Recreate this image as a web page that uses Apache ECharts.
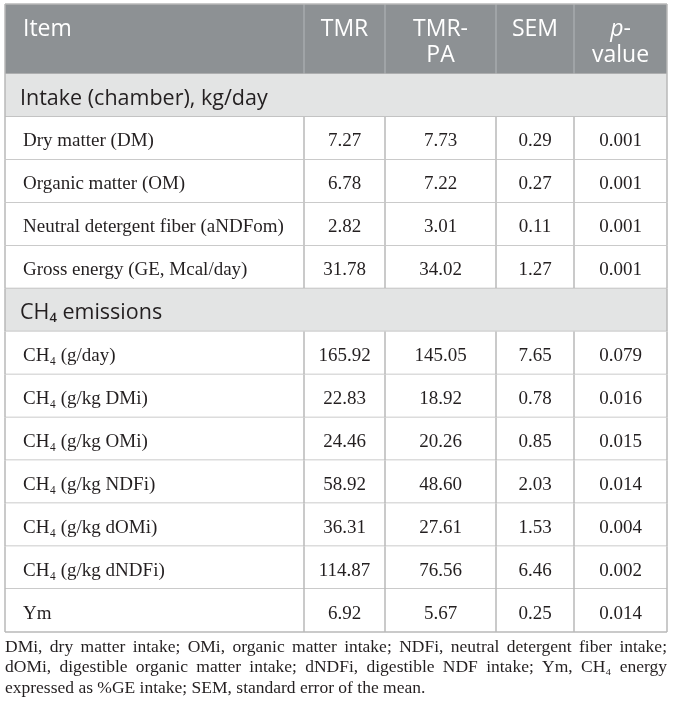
<!DOCTYPE html>
<html>
<head>
<meta charset="utf-8">
<script src="https://cdn.jsdelivr.net/npm/echarts@6/dist/echarts.min.js"></script>
<style>
html, body { margin: 0; padding: 0; background: #fff; }
#main { width: 673px; height: 714px; }
</style>
</head>
<body>
<div id="main"></div>
<script>
// table content
var columns = ['Item', 'TMR', 'TMR-\nPA', 'SEM', '{it|p}-\nvalue'];
var sectionIntake = 'Intake (chamber), kg/day';
var sectionCH4 = 'CH₄ emissions';

var intakeItems = ['Dry matter (DM)', 'Organic matter (OM)', 'Neutral detergent fiber (aNDFom)', 'Gross energy (GE, Mcal/day)'];
var intakeTMR = [7.27, 6.78, 2.82, 31.78];
var intakeTMRPA = [7.73, 7.22, 3.01, 34.02];
var intakeSEM = [0.29, 0.27, 0.11, 1.27];
var intakeP = [0.001, 0.001, 0.001, 0.001];

var ch4Items = ['CH₄ (g/day)', 'CH₄ (g/kg DMi)', 'CH₄ (g/kg OMi)', 'CH₄ (g/kg NDFi)', 'CH₄ (g/kg dOMi)', 'CH₄ (g/kg dNDFi)', 'Ym'];
var ch4TMR = [165.92, 22.83, 24.46, 58.92, 36.31, 114.87, 6.92];
var ch4TMRPA = [145.05, 18.92, 20.26, 48.60, 27.61, 76.56, 5.67];
var ch4SEM = [7.65, 0.78, 0.85, 2.03, 1.53, 6.46, 0.25];
var ch4P = [0.079, 0.016, 0.015, 0.014, 0.004, 0.002, 0.014];

var footnoteLines = [
    'DMi, dry matter intake; OMi, organic matter intake; NDFi, neutral detergent fiber intake;',
    'dOMi, digestible organic matter intake; dNDFi, digestible NDF intake; Ym, CH₄ energy',
    'expressed as %GE intake; SEM, standard error of the mean.'
];

// layout
var colEdges = [0, 299, 380, 491, 569, 662];
var HEADER_UNITS = 70 / 42.93;
var sansFont = '"Open Sans", "Noto Sans", sans-serif';
var serifFont = '"Liberation Serif", "DejaVu Serif", serif';
var lineColor = '#b9b9b9';

var rows = [];
rows.push({ kind: 'header', cells: columns });
rows.push({ kind: 'section', text: sectionIntake });
intakeItems.forEach(function (name, i) {
    rows.push({ kind: 'data', cells: [name, intakeTMR[i].toFixed(2), intakeTMRPA[i].toFixed(2), intakeSEM[i].toFixed(2), intakeP[i].toFixed(3)] });
});
rows.push({ kind: 'section', text: sectionCH4 });
ch4Items.forEach(function (name, i) {
    rows.push({ kind: 'data', cells: [name, ch4TMR[i].toFixed(2), ch4TMRPA[i].toFixed(2), ch4SEM[i].toFixed(2), ch4P[i].toFixed(3)] });
});

var rowData = rows.map(function (r, i) {
    var top = i === 0 ? 0 : HEADER_UNITS + (i - 1);
    var bottom = i === 0 ? HEADER_UNITS : HEADER_UNITS + i;
    return [i, top, bottom];
});
var totalUnits = HEADER_UNITS + rows.length - 1;

function renderRow(params, api) {
    var r = rows[params.dataIndex];
    var tl = api.coord([colEdges[0], api.value(1)]);
    var br = api.coord([colEdges[colEdges.length - 1], api.value(2)]);
    var x0 = tl[0], y0 = tl[1], x1 = br[0], y1 = br[1];
    var xs = colEdges.map(function (e) { return api.coord([e, 0])[0]; });
    var kids = [];
    var bg = r.kind === 'header' ? '#8d9194' : (r.kind === 'section' ? '#e3e4e4' : '#ffffff');
    kids.push({ type: 'rect', shape: { x: x0, y: y0, width: x1 - x0, height: y1 - y0 }, style: { fill: bg } });

    function vline(x, c) {
        kids.push({ type: 'line', shape: { x1: x, y1: y0, x2: x, y2: y1 }, style: { stroke: c, lineWidth: 1.5 } });
    }
    function hline(y) {
        kids.push({ type: 'line', shape: { x1: x0, y1: y, x2: x1, y2: y }, style: { stroke: lineColor, lineWidth: 1.5 } });
    }

    if (r.kind === 'header') {
        for (var k = 1; k < xs.length - 1; k++) vline(xs[k], '#a7abae');
        hline(y0);
        r.cells.forEach(function (t, c) {
            kids.push({
                type: 'text',
                style: {
                    text: t,
                    x: c === 0 ? x0 + 18 : (xs[c] + xs[c + 1]) / 2,
                    y: y0 + 12,
                    align: c === 0 ? 'left' : 'center',
                    verticalAlign: 'top',
                    fontSize: 23,
                    fontFamily: sansFont,
                    lineHeight: 26,
                    fill: '#ffffff',
                    rich: {
                        it: { fontStyle: 'italic', fontSize: 23, fontFamily: sansFont, lineHeight: 26, fill: '#ffffff' }
                    }
                }
            });
        });
    } else if (r.kind === 'section') {
        kids.push({
            type: 'text',
            style: {
                text: r.text, x: x0 + 15, y: (y0 + y1) / 2 + 3,
                align: 'left', verticalAlign: 'middle',
                fontSize: 21.5, fontFamily: sansFont, fill: '#231f20'
            }
        });
    } else {
        for (var j = 1; j < xs.length - 1; j++) vline(xs[j], lineColor);
        r.cells.forEach(function (t, c) {
            kids.push({
                type: 'text',
                style: {
                    text: t,
                    x: c === 0 ? x0 + 18 : (xs[c] + xs[c + 1]) / 2,
                    y: (y0 + y1) / 2 + 3,
                    align: c === 0 ? 'left' : 'center',
                    verticalAlign: 'middle',
                    fontSize: 19, fontFamily: serifFont, fill: '#231f20'
                }
            });
        });
    }
    vline(x0, lineColor);
    vline(x1, lineColor);
    hline(y1);
    return { type: 'group', children: kids };
}

// footnote, justified like the source
var fnFont = '17.5px "Liberation Serif"';
var ctx = document.createElement('canvas').getContext('2d');
ctx.font = fnFont;
var fnElements = [];
footnoteLines.forEach(function (line, li) {
    var words = line.split(' ');
    var widths = words.map(function (w) { return ctx.measureText(w).width; });
    var total = widths.reduce(function (a, b) { return a + b; }, 0);
    var gap = li < footnoteLines.length - 1 ? (662 - total) / (words.length - 1) : ctx.measureText(' ').width;
    var x = 5;
    words.forEach(function (w, k) {
        fnElements.push({
            type: 'text', x: x, y: 647 + li * 20.5,
            style: { text: w, font: fnFont, fill: '#231f20', verticalAlign: 'middle' }
        });
        x += widths[k] + gap;
    });
});

var chart = echarts.init(document.getElementById('main'));
var option = {
    animation: false,
    grid: { left: 5, top: 4, width: 662, height: 628 },
    xAxis: { type: 'value', min: colEdges[0], max: colEdges[colEdges.length - 1], show: false },
    yAxis: { type: 'value', inverse: true, min: 0, max: totalUnits, show: false },
    series: [{
        type: 'custom',
        renderItem: renderRow,
        data: rowData,
        encode: { x: -1, y: [1, 2] },
        silent: true
    }],
    graphic: fnElements
};
chart.setOption(option);
window.onresize = function () { chart.resize(); };
</script>
</body>
</html>
